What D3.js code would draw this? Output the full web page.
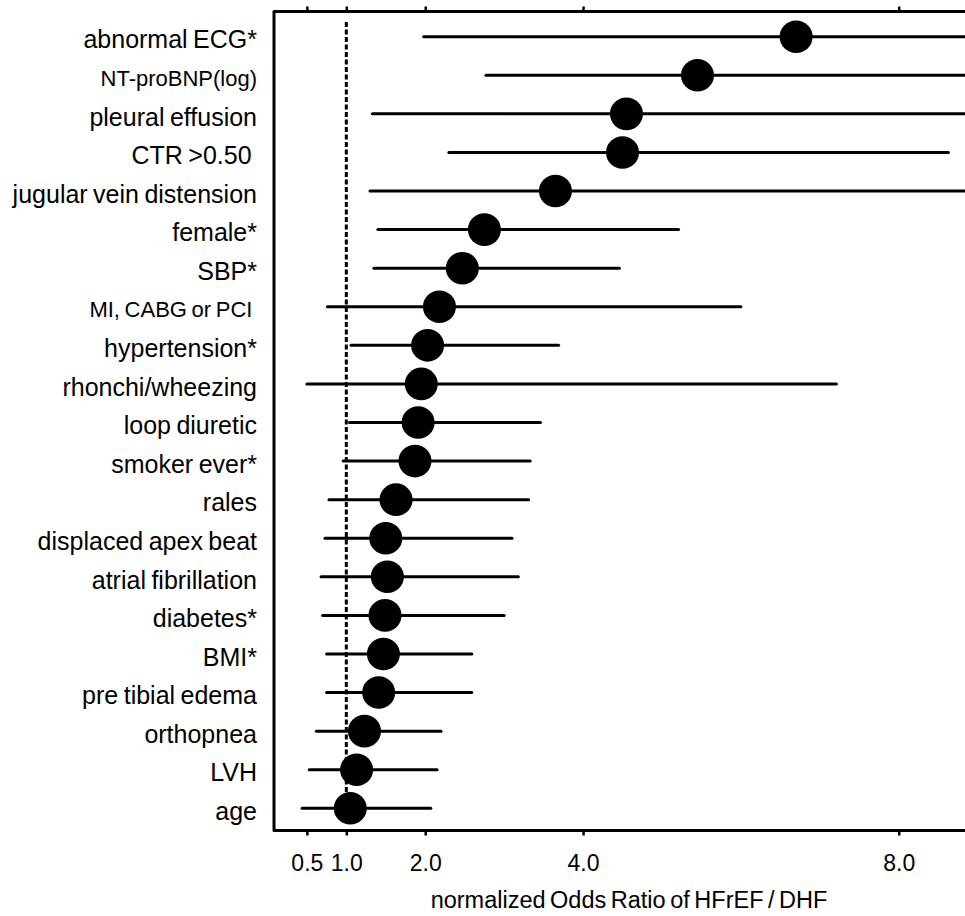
<!DOCTYPE html>
<html>
<head>
<meta charset="utf-8">
<script src="https://cdn.jsdelivr.net/npm/d3@7"></script>
<style>
  html, body { margin: 0; padding: 0; background: #fff; }
  svg { display: block; font-family: "Liberation Sans", Arial, sans-serif; }
</style>
</head>
<body>
<svg id="chart" width="965" height="916"></svg>
<script>
// ---- data (top to bottom) ----
const categories = [
  "abnormal ECG*", "NT-proBNP(log)", "pleural effusion", "CTR >0.50 ",
  "jugular vein distension", "female*", "SBP*", "MI, CABG or PCI ",
  "hypertension*", "rhonchi/wheezing", "loop diuretic", "smoker ever*",
  "rales", "displaced apex beat", "atrial fibrillation", "diabetes*",
  "BMI*", "pre tibial edema", "orthopnea", "LVH", "age"
];
const oddsRatio = [6.70, 5.45, 4.55, 4.50, 3.65, 2.75, 2.47, 2.18, 2.03, 1.95, 1.91,
                   1.87, 1.63, 1.50, 1.52, 1.49, 1.47, 1.41, 1.23, 1.13, 1.05];
const ciLower   = [1.98, 2.77, 1.33, 2.30, 1.30, 1.40, 1.35, 0.76, 1.06, 0.50, 1.04,
                   0.96, 0.78, 0.73, 0.68, 0.70, 0.75, 0.75, 0.62, 0.53, 0.44];
const ciUpper   = [9.50, 9.50, 9.50, 8.63, 9.50, 5.21, 4.46, 6.00, 3.69, 7.21, 3.46,
                   3.33, 3.31, 3.10, 3.18, 3.00, 2.59, 2.59, 2.20, 2.15, 2.07];
const smallLabels = ["NT-proBNP(log)", "MI, CABG or PCI "];
const tickValues = [0.5, 1.0, 2.0, 4.0, 8.0];
const referenceValue = 1.0;
const xTitle = "normalized Odds Ratio of HFrEF / DHF";

// ---- layout ----
const svg = d3.select("#chart");
const frameLeft = 274, frameTop = 11.5, frameBottom = 830.5, frameRight = 965;

const x = d3.scaleLinear().domain([0, 8.84]).range([267.4, 965]);
const y = d3.scalePoint().domain(categories).range([36.7, 808.3]);

const rows = categories.map((c, i) => ({
  cat: c, or: oddsRatio[i], lo: ciLower[i], hi: ciUpper[i]
}));

svg.append("defs").append("clipPath").attr("id", "plotclip")
  .append("rect").attr("x", frameLeft).attr("y", frameTop)
  .attr("width", frameRight - frameLeft).attr("height", frameBottom - frameTop);

const plot = svg.append("g").attr("clip-path", "url(#plotclip)");

// reference dashed line
plot.append("line")
  .attr("x1", x(referenceValue)).attr("x2", x(referenceValue))
  .attr("y1", 22).attr("y2", 815)
  .attr("stroke", "#000").attr("stroke-width", 3)
  .attr("stroke-dasharray", "5,2.5");

// CI lines
plot.selectAll("line.ci").data(rows).join("line")
  .attr("class", "ci")
  .attr("x1", d => x(d.lo)).attr("x2", d => x(d.hi))
  .attr("y1", d => y(d.cat)).attr("y2", d => y(d.cat))
  .attr("stroke", "#000").attr("stroke-width", 3)
  .attr("stroke-linecap", "round");

// points
plot.selectAll("ellipse.pt").data(rows).join("ellipse")
  .attr("class", "pt")
  .attr("cx", d => x(d.or)).attr("cy", d => y(d.cat))
  .attr("rx", 16.5).attr("ry", 16.3)
  .attr("fill", "#000");

// frame
svg.append("path")
  .attr("d", `M${frameRight},${frameTop}H${frameLeft}V${frameBottom}H${frameRight}`)
  .attr("fill", "none").attr("stroke", "#000").attr("stroke-width", 3)
  .attr("stroke-linejoin", "round");

// bottom axis
const gBottom = svg.append("g").attr("transform", `translate(0,${frameBottom})`)
  .call(d3.axisBottom(x).tickValues(tickValues).tickFormat(d3.format(".1f"))
        .tickSize(5).tickPadding(19.5));
gBottom.select(".domain").remove();
gBottom.selectAll(".tick line").attr("stroke", "#000").attr("stroke-width", 2.5);
gBottom.selectAll(".tick text").attr("font-size", 23).attr("fill", "#000")
  .attr("font-family", "Liberation Sans, Arial, sans-serif");

// top axis (ticks only)
const gTop = svg.append("g").attr("transform", `translate(0,${frameTop})`)
  .call(d3.axisTop(x).tickValues(tickValues).tickFormat("").tickSize(5));
gTop.select(".domain").remove();
gTop.selectAll(".tick line").attr("stroke", "#000").attr("stroke-width", 2.5);

// category labels
svg.append("g").selectAll("text").data(rows).join("text")
  .attr("x", 257)
  .attr("y", d => y(d.cat) + 3)
  .attr("dy", "0.35em")
  .attr("text-anchor", "end")
  .attr("font-size", d => smallLabels.includes(d.cat) ? 22 : 25)
  .attr("word-spacing", -1.5)
  .style("white-space", "pre")
  .attr("fill", "#000")
  .text(d => d.cat);

// x title
svg.append("text")
  .attr("x", 629).attr("y", 908)
  .attr("text-anchor", "middle")
  .attr("font-size", 23.5)
  .attr("word-spacing", -2)
  .attr("fill", "#000")
  .text(xTitle);
</script>
</body>
</html>
